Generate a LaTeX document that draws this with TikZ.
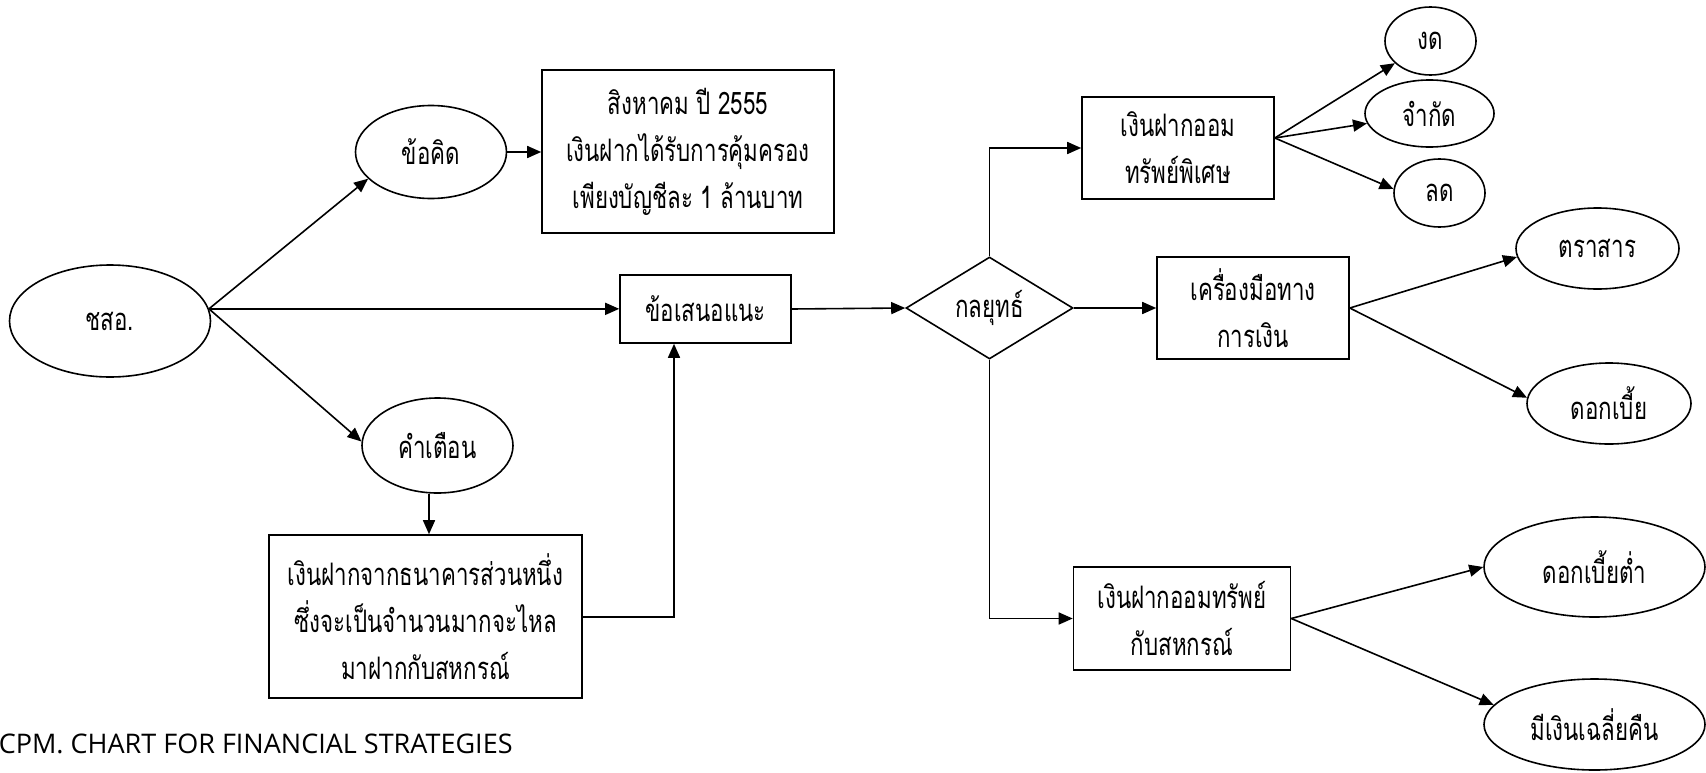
\documentclass[tikz,border=0pt]{standalone}
\usepackage{fontspec}
\newfontfamily\thaifont[Script=Thai,FakeStretch=0.72]{Loma}
\newfontfamily\capfont{Open Sans}
\usetikzlibrary{shapes.geometric,arrows.meta,calc}
\begin{document}
\begin{tikzpicture}[x=1bp,y=-1bp,
  every node/.style={font=\thaifont\fontsize{31bp}{47bp}\selectfont, line width=1.6bp, inner sep=0pt, align=center},
  ell/.style={draw, ellipse},
  box/.style={draw, rectangle},
  arr/.style={line width=1.6bp, -{Triangle[length=14bp,width=12bp]}}
]
\useasboundingbox (0,0) rectangle (1706,773);

\node[ell, minimum width=201bp, minimum height=112bp] (cs) at (110,321) {ชสอ.};
\node[ell, minimum width=151bp, minimum height=93bp] (kk) at (431,152) {ข้อคิด};
\node[box, minimum width=292bp, minimum height=163bp] (b1) at (688,151.5) {สิงหาคม ปี 2555\\เงินฝากได้รับการคุ้มครอง\\เพียงบัญชีละ 1 ล้านบาท};
\node[box, minimum width=171bp, minimum height=68bp] (sn) at (705.5,309) {ข้อเสนอแนะ};
\node[ell, minimum width=151bp, minimum height=95bp] (kt) at (437.5,445.5) {คำเตือน};
\node[box, minimum width=313bp, minimum height=163bp] (b2) at (425.5,616.5) {เงินฝากจากธนาคารส่วนหนึ่ง\\ซึ่งจะเป็นจำนวนมากจะไหล\\มาฝากกับสหกรณ์};
\node[draw, diamond, aspect=1.64, minimum width=167bp, minimum height=102bp] (ky) at (989.5,308) {กลยุทธ์};
\node[box, minimum width=192bp, minimum height=102bp] (b3) at (1178,148) {เงินฝากออม\\ทรัพย์พิเศษ};
\node[ell, minimum width=91bp, minimum height=68bp] (nd) at (1430.5,41) {งด};
\node[ell, minimum width=129bp, minimum height=67bp] (jk) at (1429.5,113.5) {จำกัด};
\node[ell, minimum width=91bp, minimum height=68bp] (ld) at (1439.5,193) {ลด};
\node[box, minimum width=192bp, minimum height=102bp] (b4) at (1253,308) {เครื่องมือทาง\\การเงิน};
\node[ell, minimum width=163bp, minimum height=81bp] (tr) at (1597.5,248.5) {ตราสาร};
\node[ell, minimum width=164bp, minimum height=81bp] (db) at (1609,403.5) {ดอกเบี้ย};
\node[box, minimum width=217bp, minimum height=103bp] (b5) at (1182,618.5) {เงินฝากออมทรัพย์\\กับสหกรณ์};
\node[ell, minimum width=221bp, minimum height=100bp] (dl) at (1594.5,567) {ดอกเบี้ยต่ำ};
\node[ell, minimum width=221bp, minimum height=91bp] (mc) at (1594.5,724.5) {มีเงินเฉลี่ยคืน};
\node[font=\capfont\fontsize{27bp}{27bp}\selectfont, anchor=west] (cap) at (-2,744) {CPM. CHART FOR FINANCIAL STRATEGIES};

\coordinate (kx) at (429,0);
\coordinate (c1) at (674,617);
\coordinate (f1) at ($(b3.east)+(0,-10)$);

\draw[arr] (cs.7) -- (kk.203);
\draw[arr] (cs.7) -- (cs.7 -| sn.west);
\draw[arr] (cs.7) -- (kt.177);
\draw[arr] (kk.east) -- (kk.east -| b1.west);
\draw[arr] (kt.south -| kx) -- (b2.north -| kx);
\draw[arr] (b2.east |- c1) -- (c1) -- (c1 |- sn.south);
\draw[arr] (sn.east) -- (ky.west);
\draw[arr] (ky.north) -- (ky.north |- b3.west) -- (b3.west);
\draw[arr] (ky.east) -- (b4.west);
\draw[arr] (ky.south) -- (ky.south |- b5.west) -- (b5.west);
\draw[arr] (f1) -- (nd);
\draw[arr] (f1) -- (jk);
\draw[arr] (f1) -- (ld.175);
\draw[arr] (b4.east) -- (tr.186);
\draw[arr] (b4.east) -- (db.176);
\draw[arr] (b5.east) -- (dl.west);
\draw[arr] (b5.east) -- (mc.169);
\end{tikzpicture}
\end{document}
